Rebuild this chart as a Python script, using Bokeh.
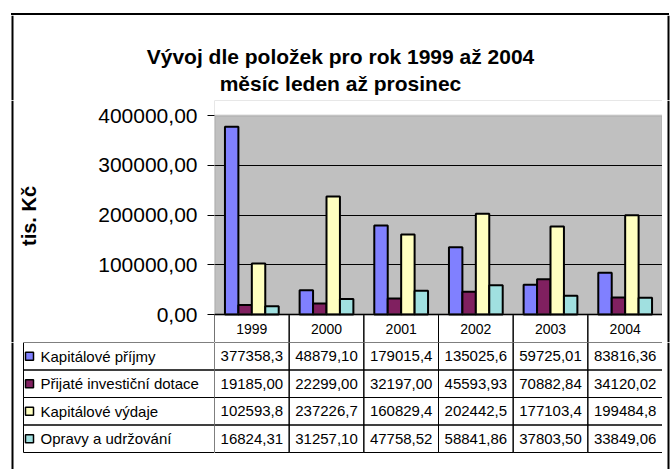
import math
from bokeh.plotting import figure
from bokeh.layouts import column, row
from bokeh.models import (FactorRange, Range1d, FixedTicker, BoxAnnotation, Span,
                          ColumnDataSource, Spacer)
from bokeh.transform import dodge
from bokeh.embed import file_html
from bokeh.resources import INLINE
from bokeh.core.properties import value

# ---------------- data ----------------
title_lines = ["Vývoj dle položek pro rok 1999 až 2004", "měsíc leden až prosinec"]
y_label = "tis. Kč"
years = ["1999", "2000", "2001", "2002", "2003", "2004"]
series_names = ["Kapitálové příjmy", "Přijaté investiční dotace",
                "Kapitálové výdaje", "Opravy a udržování"]
kapitalove_prijmy = [377358.3, 48879.10, 179015.4, 135025.6, 59725.01, 83816.36]
prijate_dotace = [19185.00, 22299.00, 32197.00, 45593.93, 70882.84, 34120.02]
kapitalove_vydaje = [102593.8, 237226.7, 160829.4, 202442.5, 177103.4, 199484.8]
opravy_udrzovani = [16824.31, 31257.10, 47758.52, 58841.86, 37803.50, 33849.06]
series_values = [kapitalove_prijmy, prijate_dotace, kapitalove_vydaje, opravy_udrzovani]
series_colors = ["#8080FF", "#802060", "#FFFFC0", "#A0E0E0"]
y_ticks = [0, 100000, 200000, 300000, 400000]
y_tick_labels = ["0,00", "100000,00", "200000,00", "300000,00", "400000,00"]

FONT = "Liberation Sans"


def fmt(v):
    s = f"{v:.2f}"
    if len(s) > 8:
        s = f"{v:.1f}"
    return s.replace(".", ",")


# ---------------- layout (page pixels) ----------------
PW, PH = 670, 469
FL, FR = 214, 662            # plot area left / right
FT, Y0 = 115, 314            # plot area top / zero line
R1, R2 = 100, 342            # cuts: title band | chart band (incl. header row) | table band
LW = 50                      # width of the y-label strip
BL0, BL1 = 11, 13            # outer border, left edge
BR0, BR1 = 667, 669          # outer border, right edge
BT0, BT1 = 13, 15            # outer border, top edge
TITLE_MID = [55.5, 82.5]     # vertical centres of the two title lines
Y_MAX = y_ticks[-1]
k = Y_MAX / (Y0 - FT)
HDR_MID = 328
row_b = [342, 369.5, 397, 424.5, 452]


def deco(w, h, xr, yr):
    f = figure(width=w, height=h, x_range=Range1d(*xr), y_range=Range1d(*yr),
               x_axis_type=None, y_axis_type=None, title=None,
               output_backend="svg", toolbar_location=None,
               min_border_left=0, min_border_right=0, min_border_top=0, min_border_bottom=0)
    f.outline_line_color = None
    f.background_fill_color = "white"
    f.border_fill_color = "white"
    return f


def box(f, x0, x1, y0, y1):
    f.quad(left=[x0], right=[x1], top=[y0], bottom=[y1], fill_color="black",
           line_color=None)


# ---------------- title band ----------------
# top edge of the outer chart frame
top_gap = Spacer(width=PW, height=BT0)
top_edge = row(Spacer(width=BL0, height=BT1 - BT0),
               Spacer(width=BR1 - BL0, height=BT1 - BT0, styles={"background-color": "black"}),
               Spacer(width=PW - BR1, height=BT1 - BT0))
tleft = deco(LW, R1 - BT1, (0, LW), (R1, BT1))
box(tleft, BL0, BL1, BT1, R1)
tmid = deco(FR - LW, R1 - BT1, (LW, FR), (R1, BT1))
tmid.text(x=[(BL0 + BR1) / 2] * 2, y=TITLE_MID, text=title_lines,
          text_align="center", text_baseline="middle", text_font=value(FONT),
          text_font_size="21px", text_font_style="bold", text_color="black")
tright = deco(PW - FR, R1 - BT1, (FR, PW), (R1, BT1))
box(tright, BR0, BR1, BT1, R1)

# ---------------- chart band ----------------
lefty = deco(LW, R2 - R1, (0, LW), (R2, R1))
box(lefty, BL0, BL1, R1, R2)
lefty.text(x=[28], y=[(FT + Y0) / 2 + 1], text=[y_label], angle=math.pi / 2,
           text_align="center", text_baseline="middle", text_font=value(FONT),
           text_font_size="20px", text_font_style="bold", text_color="black")

xr = FactorRange(*years, range_padding=0)
chart = figure(width=FR - LW, height=R2 - R1, x_range=xr,
               y_range=Range1d(-(R2 - Y0) * k, Y_MAX + (FT - R1) * k),
               title=None, output_backend="svg", toolbar_location=None,
               min_border_left=FL - LW, min_border_right=0,
               min_border_top=0, min_border_bottom=0)
chart.outline_line_color = None
chart.background_fill_color = "#C0C0C0"
chart.border_fill_color = "white"
chart.xaxis.visible = False
chart.xgrid.visible = False
chart.add_layout(BoxAnnotation(top=0, fill_color="white", fill_alpha=1, line_color=None,
                               level="underlay"))
chart.add_layout(BoxAnnotation(bottom=Y_MAX, fill_color="white", fill_alpha=1,
                               line_color=None, level="underlay"))

ax = chart.yaxis[0]
ax.ticker = FixedTicker(ticks=y_ticks)
ax.major_label_overrides = {t: l for t, l in zip(y_ticks, y_tick_labels)}
ax.bounds = (0, Y_MAX)
ax.axis_line_color = None
ax.major_tick_out = 7
ax.major_tick_in = 0
ax.major_tick_line_color = "black"
ax.minor_tick_line_color = None
ax.major_label_standoff = 10
ax.major_label_text_font = FONT
ax.major_label_text_font_size = "21px"
ax.major_label_text_color = "black"

chart.ygrid.ticker = FixedTicker(ticks=y_ticks[1:-1])
chart.ygrid.grid_line_color = "black"
chart.ygrid.grid_line_width = 1

src = ColumnDataSource(dict(year=years, **{f"s{i}": v for i, v in enumerate(series_values)}))
bar_w = 0.18
offsets = [(-1.5 + i) * bar_w for i in range(len(series_values))]
for i, col in enumerate(series_colors):
    chart.vbar(x=dodge("year", offsets[i], range=xr), top=f"s{i}", width=bar_w,
               source=src, fill_color=col, line_color="black", line_width=2)

chart.add_layout(BoxAnnotation(left=0, right=len(years), bottom=0, top=Y_MAX,
                               fill_color=None, line_color="#808080", line_width=2))
# table header row (years) sits in the chart band, below the zero line
chart.vbar(x=years, top=0, bottom=-(R2 - Y0) * k, width=1, fill_color=None,
           line_color="black", line_width=1)
chart.text(x=years, y=[-(HDR_MID - Y0) * k] * len(years), text=years, text_align="center",
           text_baseline="middle", text_font=value(FONT), text_font_size="14px",
           text_color="black")
chart.add_layout(Span(location=0, dimension="width", line_color="black", line_width=1.5))

sr1 = deco(PW - FR, R2 - R1, (FR, PW), (R2, R1))
box(sr1, BR0, BR1, R1, R2)

# ---------------- table band ----------------
tl = deco(FL, PH - R2, (0, FL), (PH, R2))
box(tl, BL0, BL1, R2, PH)
tr = figure(width=FR - FL, height=PH - R2, x_range=xr, y_range=Range1d(PH, R2),
            title=None, output_backend="svg", toolbar_location=None,
            min_border_left=0, min_border_right=0, min_border_top=0, min_border_bottom=0)
tr.outline_line_color = None
tr.xaxis.visible = False
tr.yaxis.visible = False
tr.grid.visible = False
tr.background_fill_color = "white"
tr.border_fill_color = "white"
sr2 = deco(PW - FR, PH - R2, (FR, PW), (PH, R2))
box(sr2, BR0, BR1, R2, PH)

for r, (name, vals, col) in enumerate(zip(series_names, series_values, series_colors)):
    t_px, b_px = row_b[r], row_b[r + 1]
    mid = (t_px + b_px) / 2
    tr.vbar(x=years, top=t_px, bottom=b_px, width=1, fill_color=None,
            line_color="black", line_width=1)
    tr.text(x=years, y=[mid] * len(years), text=[fmt(v) for v in vals],
            text_align="center", text_baseline="middle", text_font=value(FONT),
            text_font_size="15px", text_color="black")
    tl.quad(left=[23], right=[FL], top=[t_px], bottom=[b_px], fill_color=None,
            line_color="black", line_width=1)
    tl.quad(left=[25], right=[33], top=[mid - 4], bottom=[mid + 4], fill_color=col,
            line_color="black", line_width=1.5)
    tl.text(x=[40], y=[mid], text=[name], text_align="left", text_baseline="middle",
            text_font=value(FONT), text_font_size="15px", text_color="black")

layout = column(top_gap, top_edge, row(tleft, tmid, tright),
                row(lefty, chart, sr1), row(tl, tr, sr2))
open("out.html", "w").write(file_html(layout, INLINE))
